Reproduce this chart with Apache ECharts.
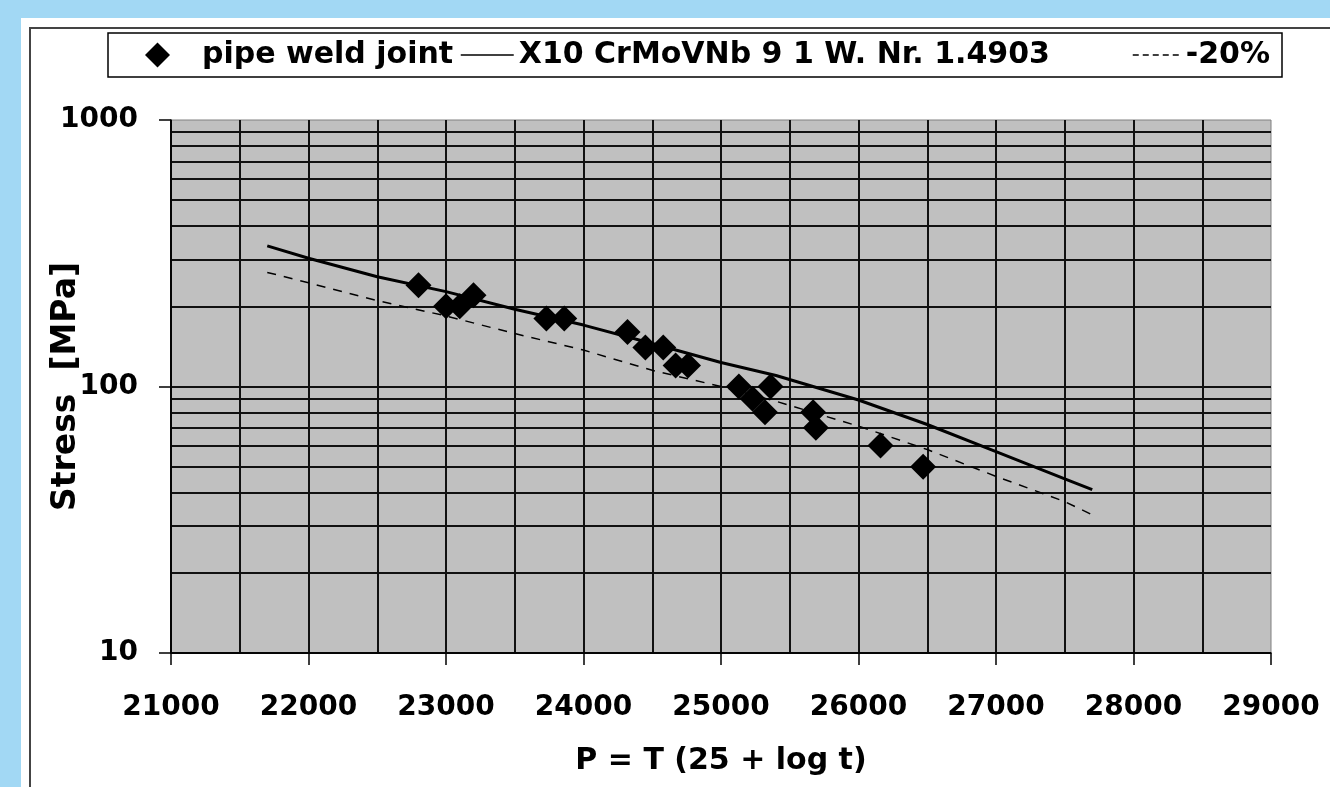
<!DOCTYPE html>
<html>
<head>
<meta charset="utf-8">
<script src="https://cdn.jsdelivr.net/npm/echarts@6/dist/echarts.min.js"></script>
<style>
  html, body { margin: 0; padding: 0; width: 1330px; height: 787px; overflow: hidden; background: #a2d8f4; }
  #panel { position: absolute; left: 21px; top: 18px; width: 1400px; height: 900px; background: #fff; }
  #frame { position: absolute; left: 29px; top: 27px; width: 1400px; height: 900px; border-left: 2px solid #444; border-top: 2px solid #444; }
  #main { position: absolute; left: 0; top: 0; width: 1330px; height: 787px; }
</style>
</head>
<body>
<div id="panel"></div>
<div id="frame"></div>
<div id="main"></div>
<script>
// pipe weld joint test points
var weldP      = [22800, 23000, 23100, 23200, 23730, 23860, 24320, 24450, 24580, 24670, 24760, 25130, 25230, 25320, 25360, 25670, 25690, 26160, 26470];
var weldStress = [240,   200,   200,   220,   180,   180,   160,   140,   140,   120,   120,   100,   90,    80,    100,   80,    70,    60,    50];

// base material curve and -20% band
var curveP     = [21700, 22000, 22500, 23000, 23500, 24000, 24500, 25000, 25400, 26000, 26500, 27000, 27500, 27700];
var refStress  = [337,   303,   258,   227,   195,   170,   145,   123,   110,   89,    72,    57,    45,    41];
var lowStress  = [268,   245,   210,   184,   158,   137,   115,   100,   88,    71,    58,    46,    37,    33];

var names = ['pipe weld joint', 'X10 CrMoVNb 9 1 W. Nr. 1.4903', '-20%'];

function pairs(xs, ys) {
    var out = [];
    for (var i = 0; i < xs.length; i++) out.push([xs[i], ys[i]]);
    return out;
}
function plain(v) { return String(v); }

var font = 'DejaVu Sans';
var legendText = { fontFamily: font, fontWeight: 'bold', fontSize: 30, color: '#000', lineHeight: 30 };

var myChart = echarts.init(document.getElementById('main'));
var option = {
    animation: false,
    graphic: [{
        type: 'rect',
        z: 0,
        shape: { x: 108, y: 33, width: 1174, height: 44 },
        style: { fill: '#fff', stroke: '#000', lineWidth: 1.5 }
    }],
    legend: [
        {
            data: [names[0]], left: 145, top: 40, padding: 0, itemWidth: 25, itemHeight: 25,
            textStyle: { fontFamily: font, fontWeight: 'bold', fontSize: 30, color: '#000', lineHeight: 30, padding: [0, 0, 0, 27] },
            z: 5
        },
        { data: [names[1]], left: 460, top: 40, padding: 0, itemWidth: 53, itemHeight: 25, itemStyle: { opacity: 0 }, lineStyle: { width: 1.5 }, textStyle: legendText, z: 5 },
        { data: [names[2]], left: 1132, top: 40, padding: 0, itemWidth: 48, itemHeight: 25, itemStyle: { opacity: 0 }, lineStyle: { width: 1.5, type: [6, 4] }, textStyle: legendText, z: 5 }
    ],
    grid: {
        left: 171, right: 59, top: 120, bottom: 134,
        show: true,
        backgroundColor: '#c0c0c0',
        borderColor: '#808080',
        borderWidth: 1
    },
    xAxis: {
        type: 'value',
        min: 21000, max: 29000, interval: 1000,
        name: 'P = T (25 + log t)',
        nameLocation: 'middle',
        nameGap: 93,
        nameMoveOverlap: false,
        nameTextStyle: { fontFamily: font, fontWeight: 'bold', fontSize: 30, color: '#000' },
        axisLine: { lineStyle: { color: '#000', width: 1.5 } },
        axisTick: { length: 12, lineStyle: { color: '#000', width: 1.5 } },
        axisLabel: { margin: 41, formatter: plain, fontFamily: font, fontWeight: 'bold', fontSize: 28, color: '#000' },
        splitLine: { show: true, showMaxLine: false, lineStyle: { color: '#111', width: 2 } },
        minorTick: { show: false, splitNumber: 2 },
        minorSplitLine: { show: true, lineStyle: { color: '#111', width: 2 } }
    },
    yAxis: {
        type: 'log',
        logBase: 10,
        min: 10, max: 1000,
        name: 'Stress  [MPa]',
        nameLocation: 'middle',
        nameRotate: 90,
        nameGap: 88,
        nameMoveOverlap: false,
        nameTextStyle: { fontFamily: font, fontWeight: 'bold', fontSize: 33, color: '#000' },
        axisLine: { show: true, lineStyle: { color: '#000', width: 1.5 } },
        axisTick: { show: true, length: 12, lineStyle: { color: '#000', width: 1.5 } },
        axisLabel: { margin: 33, formatter: plain, fontFamily: font, fontWeight: 'bold', fontSize: 28, color: '#000' },
        splitLine: { show: true, showMaxLine: false, lineStyle: { color: '#111', width: 2 } },
        minorTick: { show: false, splitNumber: 9 },
        minorSplitLine: { show: true, lineStyle: { color: '#111', width: 2 } }
    },
    series: [
        {
            name: names[0],
            type: 'scatter',
            symbol: 'diamond',
            symbolSize: 26,
            itemStyle: { color: '#000', opacity: 1 },
            data: pairs(weldP, weldStress),
            z: 4
        },
        {
            name: names[1],
            type: 'line',
            symbol: 'none',
            lineStyle: { color: '#000', width: 3 },
            itemStyle: { color: '#000' },
            data: pairs(curveP, refStress),
            z: 3
        },
        {
            name: names[2],
            type: 'line',
            symbol: 'none',
            lineStyle: { color: '#000', width: 1.5, type: [9, 8] },
            itemStyle: { color: '#000' },
            data: pairs(curveP, lowStress),
            z: 3
        }
    ]
};
myChart.setOption(option);
</script>
</body>
</html>
